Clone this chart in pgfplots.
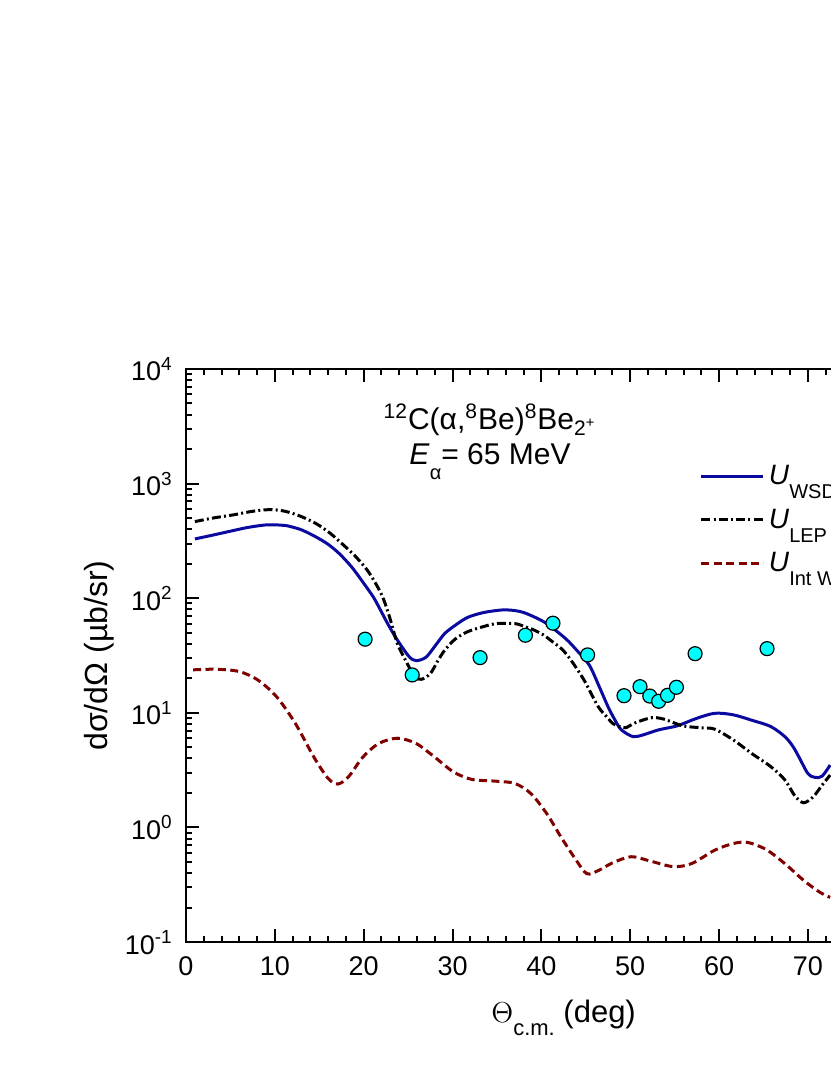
\documentclass[border=0pt]{standalone}
\usepackage{pgfplots}
\pgfplotsset{compat=1.18}
\usepackage{fontspec}
\setmainfont{Liberation Sans}
\definecolor{wsd}{RGB}{10,10,160}
\definecolor{wine}{RGB}{128,0,0}
\definecolor{cy}{RGB}{0,255,255}
\begin{document}
\begin{tikzpicture}
\useasboundingbox (-93pt,-66.5pt) rectangle (322pt,471pt);
\begin{axis}[
  at={(0pt,0pt)}, anchor=south west,
  scale only axis,
  width=377.6pt, height=286.5pt,
  xmin=0, xmax=85,
  ymode=log, ymin=0.1, ymax=10000,
  xtick={0,10,...,80},
  xticklabels={0,10,20,30,40,50,60,70,},
  minor x tick num=4,
  ytick={0.1,1,10,100,1000,10000},
  yticklabels={10\textsuperscript{-1},10\textsuperscript{0},10\textsuperscript{1},10\textsuperscript{2},10\textsuperscript{3},10\textsuperscript{4}},
  minor ytick={0.2,0.3,0.4,0.5,0.6,0.7,0.8,0.9,2,3,4,5,6,7,8,9,20,30,40,50,60,70,80,90,200,300,400,500,600,700,800,900,2000,3000,4000,5000,6000,7000,8000,9000},
  tick align=inside, tick pos=both,
  major tick length=6.5pt, minor tick length=3pt,
  every tick/.style={black, line width=1pt},
  axis line style={line width=1.3pt},
  /pgf/number format/assume math mode=true,
  xticklabel style={font=\fontsize{13.5}{13.5}\selectfont, anchor=base, yshift=-16.5pt},
  yticklabel style={font=\fontsize{13.5}{13.5}\selectfont, anchor=base east, inner sep=0pt, xshift=-6.5pt, yshift=-6pt},
  xlabel={$\Theta$\raisebox{-0.45em}{\fontsize{11}{11}\selectfont c.m.} (deg)},
  xlabel style={font=\fontsize{15.5}{15.5}\selectfont, at={(axis description cs:0.5,0)}, anchor=base, yshift=-40pt},
  ylabel={dσ/dΩ (µb/sr)},
  ylabel style={font=\fontsize{16}{16}\selectfont, at={(axis description cs:-0.104,0.5)}, anchor=base},
  legend style={at={(axis description cs:0.68,0.7365)}, anchor=west, draw=none, fill=none,
    font=\fontsize{14}{14}\selectfont, row sep=6.5pt, inner sep=0pt},
  legend cell align=left,
  legend image code/.code={\draw[#1] (0pt,0pt) -- (31pt,0pt);},
]
\addplot[wsd, line width=1.5pt, smooth, tension=0.5] coordinates {
(1.0,329) (3.0,355) (5.3,389) (7.0,415) (9.0,436) (10.5,435) (11.3,430) (13.0,395) (14.7,340) (16.0,295) (17.3,243) (18.7,185) (20.0,135) (21.1,102) (21.7,84) (22.8,58) (23.8,43) (25.1,31) (25.9,28.5) (27.0,30.5) (28.0,38) (29.1,49) (30.3,58) (31.7,68) (33.5,75) (35.6,79) (37.0,78) (38.0,75) (39.3,68) (40.6,60) (42.7,44.6) (44.0,35) (45.4,26) (46.5,17) (47.5,11.3) (48.3,8.6) (49.0,7.1) (50.3,6.2) (51.4,6.4) (53.2,7.1) (55.3,7.7) (57.4,8.9) (59.5,9.9) (61.6,9.6) (63.7,8.6) (65.8,7.6) (67.4,6.2) (68.3,5.1) (69.0,4.1) (70.0,2.95) (70.8,2.73) (71.6,2.8) (72.5,3.5)
};
\addlegendentry{\textit{U}\raisebox{-0.5em}{\fontsize{10}{10}\selectfont WSD}}
\addplot[black, line width=1.5pt, smooth, tension=0.5, dash pattern=on 4.5pt off 1.6pt on 1pt off 1.6pt] coordinates {
(1.0,466) (3.0,500) (5.3,533) (7.0,565) (8.7,589) (10.0,590) (11.3,570) (13.0,515) (14.7,445) (16.2,370) (17.6,297) (19.0,235) (20.3,180) (21.1,145) (21.8,116) (22.3,95) (23.0,65) (23.8,40) (24.9,27) (25.7,20.7) (26.5,19.6) (27.5,22) (28.3,28) (29.1,35) (30.3,44) (31.7,51) (33.3,56) (34.9,60) (37.0,60) (38.0,57) (39.1,53) (40.2,48) (41.2,42) (42.3,36) (43.3,29) (44.8,19.3) (46.4,11.3) (47.5,9) (48.0,8.1) (49.0,7.5) (49.5,7.4) (50.6,8.2) (52.4,9.06) (53.8,8.8) (55.9,7.7) (58.0,7.4) (59.5,7.2) (61.6,5.8) (63.7,4.4) (65.8,3.4) (67.4,2.6) (68.5,1.9) (69.5,1.64) (70.6,1.85) (71.6,2.34) (72.5,2.86)
};
\addlegendentry{\textit{U}\raisebox{-0.5em}{\fontsize{10}{10}\selectfont LEP}}
\addplot[wine, line width=1.5pt, smooth, tension=0.5, dash pattern=on 4pt off 2.2pt] coordinates {
(0.8,23.7) (3.4,24) (6.0,22.9) (8.1,19.3) (10.2,13.8) (12.3,8.1) (14.4,4.1) (16.0,2.67) (17.1,2.39) (18.3,2.77) (19.9,4.1) (21.7,5.4) (23.8,6.0) (25.9,5.4) (28.0,4.1) (30.1,3.05) (32.2,2.62) (34.9,2.53) (37.0,2.42) (38.8,1.98) (40.6,1.32) (42.2,0.826) (43.8,0.534) (45.1,0.395) (46.4,0.42) (48.0,0.49) (50.1,0.555) (52.2,0.51) (54.8,0.455) (56.9,0.483) (59.5,0.632) (61.6,0.723) (63.2,0.740) (65.3,0.641) (67.4,0.483) (69.5,0.346) (71.3,0.273) (72.5,0.245)
};
\addlegendentry{\textit{U}\raisebox{-0.5em}{\fontsize{10}{10}\selectfont Int WSD}}
\addplot[only marks, mark=*, mark size=3.5pt, mark options={fill=cy, draw=black, line width=0.6pt}] coordinates {
(20.16,43.9) (25.46,21.4) (33.1,30.3) (38.2,47.5) (41.3,60.5) (45.2,32.0) (49.3,14.1) (51.1,16.9) (52.2,14.0) (53.2,12.6) (54.2,14.2) (55.2,16.7) (57.3,32.8) (65.4,36.3)
};
\node[anchor=base, font=\fontsize{15}{15}\selectfont] at (rel axis cs:0.4026,0.895) {\textsuperscript{12}C(α,\textsuperscript{8}Be)\textsuperscript{8}Be\textsubscript{2\textsuperscript{+}}};
\node[anchor=base, font=\fontsize{15}{15}\selectfont] at (rel axis cs:0.4026,0.834) {\textit{E}\raisebox{-0.5em}{\fontsize{10}{10}\selectfont α}= 65 MeV};
\end{axis}
\end{tikzpicture}
\end{document}
